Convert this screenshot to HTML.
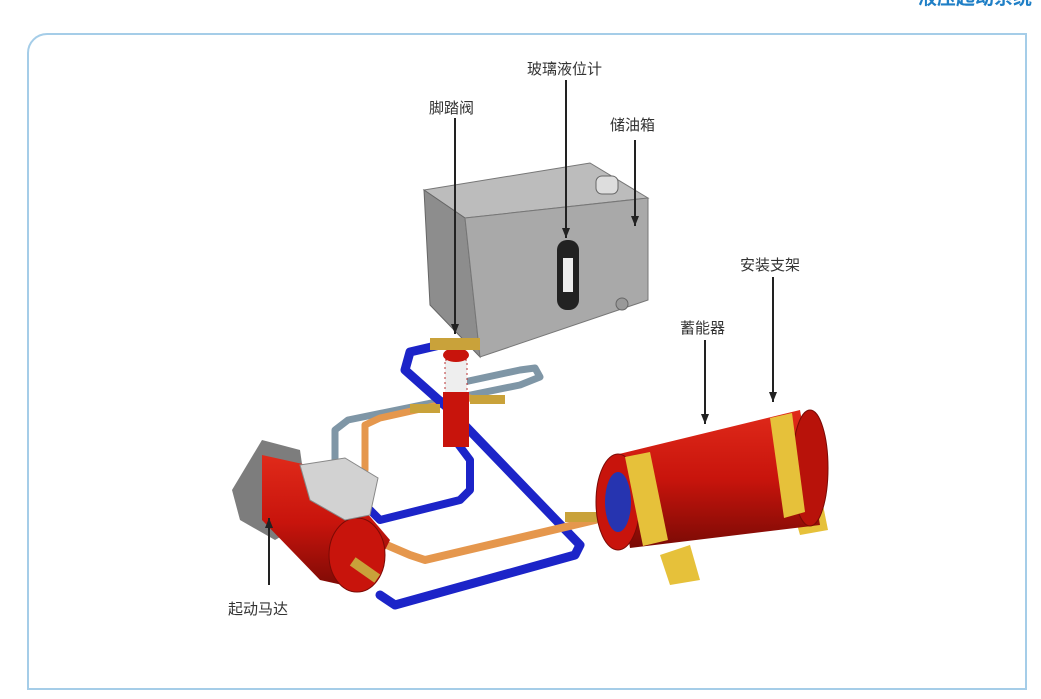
<!DOCTYPE html>
<html><head><meta charset="utf-8"><style>
html,body{margin:0;padding:0;background:#fff;}
body{width:1041px;height:699px;position:relative;overflow:hidden;font-family:"Liberation Sans","Noto Sans CJK SC",sans-serif;}
.frame{position:absolute;left:27px;top:33px;width:996px;height:653px;border:2px solid #a5cde8;border-radius:20px 0 0 0;}
.t{position:absolute;font-size:15px;color:#333;white-space:nowrap;}
.hd{position:absolute;left:918px;top:-17px;font-size:19px;font-weight:bold;color:#1f7fc6;}
</style></head><body>
<div class="hd">液压起动系统</div>
<div class="frame"></div>
<svg width="1041" height="699" style="position:absolute;left:0;top:0">
<defs>
<marker id="a" markerWidth="10" markerHeight="8" refX="10" refY="4" orient="auto" markerUnits="userSpaceOnUse"><path d="M0,0 L10,4 L0,8 z" fill="#222"/></marker>
<linearGradient id="red" x1="0" y1="0" x2="0" y2="1"><stop offset="0" stop-color="#e02a1a"/><stop offset=".5" stop-color="#c8140c"/><stop offset="1" stop-color="#7a0a05"/></linearGradient>
</defs>
<!-- tank -->
<polygon points="424,190 590,163 648,198 465,218" fill="#bcbcbc" stroke="#777"/>
<polygon points="424,190 465,218 480,357 430,305" fill="#8d8d8d" stroke="#666"/>
<polygon points="465,218 648,198 648,300 480,357" fill="#a9a9a9" stroke="#777"/>
<rect x="596" y="176" width="22" height="18" rx="6" fill="#ddd" stroke="#666"/>
<rect x="557" y="240" width="22" height="70" rx="10" fill="#222"/>
<rect x="563" y="258" width="10" height="34" fill="#eee"/>
<circle cx="622" cy="304" r="6" fill="#999" stroke="#666"/>
<!-- pipes -->
<g fill="none" stroke-linecap="round" stroke-linejoin="round">
<polyline points="335,470 335,430 348,420 520,385 540,377 535,368 520,370 450,385" stroke="#7f96a6" stroke-width="7"/>
<polyline points="365,470 365,425 380,418 470,398" stroke="#e5974d" stroke-width="7"/>
<polyline points="440,345 410,352 405,370 450,410 580,545 575,555 395,605 380,595" stroke="#1c24c8" stroke-width="9"/>
<polyline points="455,440 470,460 470,490 460,500 380,520 370,510" stroke="#1c24c8" stroke-width="8"/>
<polyline points="375,540 410,555 425,560 595,520" stroke="#e5974d" stroke-width="8"/>
</g>
<!-- valve -->
<rect x="445" y="360" width="22" height="35" fill="#eee" stroke="#b33" stroke-dasharray="2 3"/>
<ellipse cx="456" cy="355" rx="13" ry="7" fill="#c8140c"/>
<rect x="443" y="392" width="26" height="55" fill="#c8140c"/>
<rect x="430" y="338" width="50" height="12" fill="#c9a23a"/>
<rect x="470" y="395" width="35" height="9" fill="#c9a23a"/>
<rect x="410" y="404" width="30" height="9" fill="#c9a23a"/>
<!-- motor -->
<polygon points="232,490 262,440 300,450 310,520 275,540 240,520" fill="#7d7d7d"/>
<polygon points="262,455 330,470 390,540 365,590 320,580 262,520" fill="url(#red)"/>
<ellipse cx="357" cy="555" rx="28" ry="37" fill="#c8140c" stroke="#7a0a05"/>
<polygon points="300,465 345,458 378,478 370,515 345,520 310,500" fill="#d2d2d2" stroke="#888"/>
<rect x="350" y="565" width="30" height="10" fill="#c9a23a" transform="rotate(35 365 570)"/>
<rect x="565" y="512" width="35" height="10" fill="#c9a23a"/>
<!-- accumulator -->
<polygon points="660,555 690,545 700,580 670,585" fill="#e6c13a"/>
<polygon points="790,500 820,490 828,530 800,535" fill="#e6c13a"/>
<polygon points="615,455 800,410 820,525 630,548" fill="url(#red)"/>
<ellipse cx="810" cy="468" rx="18" ry="58" fill="#b8120a" stroke="#7a0a05"/>
<ellipse cx="618" cy="502" rx="22" ry="48" fill="#c8140c" stroke="#7a0a05"/>
<ellipse cx="618" cy="502" rx="13" ry="30" fill="#2634b0"/>
<polygon points="625,457 650,452 668,540 643,546" fill="#e6c13a"/>
<polygon points="770,418 792,413 805,512 784,518" fill="#e6c13a"/>
<!-- arrows -->
<g stroke="#222" stroke-width="2" marker-end="url(#a)">
<line x1="455" y1="118" x2="455" y2="334"/>
<line x1="566" y1="80" x2="566" y2="238"/>
<line x1="635" y1="140" x2="635" y2="226"/>
<line x1="773" y1="277" x2="773" y2="402"/>
<line x1="705" y1="340" x2="705" y2="424"/>
<line x1="269" y1="585" x2="269" y2="518"/>
</g>
</svg>
<div class="t" style="left:429px;top:97px">脚踏阀</div>
<div class="t" style="left:527px;top:58px">玻璃液位计</div>
<div class="t" style="left:610px;top:114px">储油箱</div>
<div class="t" style="left:740px;top:254px">安装支架</div>
<div class="t" style="left:680px;top:317px">蓄能器</div>
<div class="t" style="left:228px;top:598px">起动马达</div>
</body></html>
